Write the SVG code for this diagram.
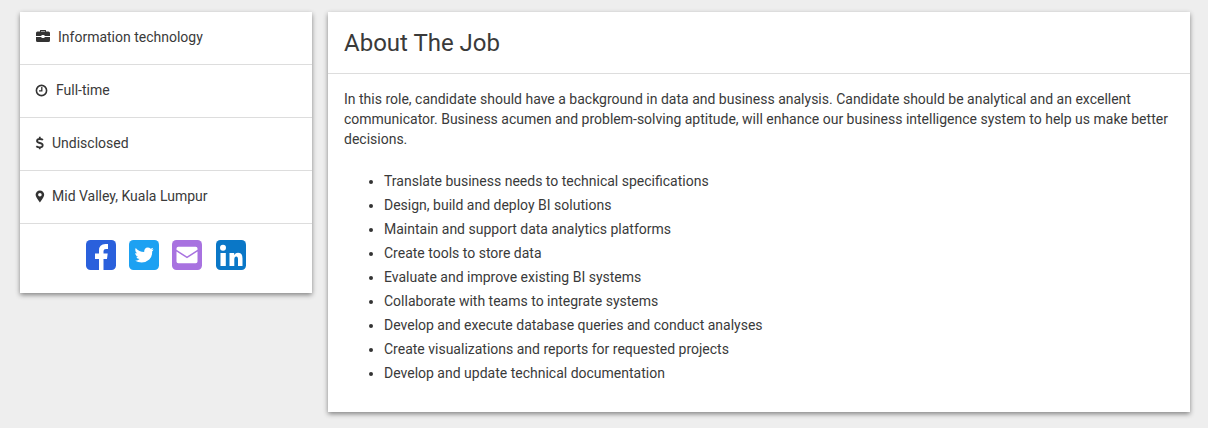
<svg xmlns="http://www.w3.org/2000/svg" width="1208" height="428" viewBox="0 0 1208 428">
<style>
text{font-family:Roboto,"Liberation Sans",sans-serif;font-size:14px;fill:#3a3a3a}
.sep{stroke:#ddd;stroke-width:1;fill:none}
.ic{fill:#333}
.w{fill:#fff}
</style>
<defs>
<filter id="sh" x="-5%" y="-5%" width="110%" height="115%">
<feDropShadow dx="0" dy="2" stdDeviation="2.5" flood-color="#000" flood-opacity="0.45"/>
</filter>
</defs>
<rect width="1208" height="428" fill="#eee"/>
<g id="sidebar">
<rect x="20" y="12" width="292" height="281" fill="#fff" filter="url(#sh)"/>
<path class="sep" d="M20 64.500H312M20 117.500H312M20 170.500H312M20 223.500H312"/>
</g>
<g id="item-industry">
<path class="ic" d="M40 31.500V30.500Q40 30 40.500 30H45.500Q46 30 46 30.500V31.500H48.500Q50 31.500 50 33V36H44.500V35H41.500V36H36V33Q36 31.500 37.500 31.500ZM41 31.500H45V31H41ZM36 37H41.500V38H44.500V37H50V40.500Q50 42 48.500 42H37.500Q36 42 36 40.500Z"/>
<text x="58" y="42">Information technology</text>
</g>
<g id="item-type">
<circle cx="41.500" cy="90.500" r="5.100" fill="none" stroke="#333" stroke-width="1.600"/>
<path d="M41.800 87V90.800H39" fill="none" stroke="#333" stroke-width="1.300"/>
<text x="56" y="95">Full-time</text>
</g>
<g id="item-salary">
<path d="M43 139.900Q41.800 139 39.800 139Q37 139 37 141Q37 142.400 39.800 143Q42.700 143.600 42.700 145.300Q42.700 147.400 39.800 147.400Q37.700 147.400 36.300 146.200M39.800 136.700V139M39.800 147.400V149.300" fill="none" stroke="#333" stroke-width="1.800"/>
<text x="52" y="148">Undisclosed</text>
</g>
<g id="item-location">
<path class="ic" fill-rule="evenodd" d="M39.900 190.500A4.300 4.300 0 0 1 44.200 194.800Q44.200 196.800 39.900 202.500Q35.600 196.800 35.600 194.800A4.300 4.300 0 0 1 39.900 190.500ZM39.900 193A1.800 1.800 0 1 0 39.900 196.600A1.800 1.800 0 1 0 39.900 193Z"/>
<text x="52" y="201">Mid Valley, Kuala Lumpur</text>
</g>
<g id="social-facebook">
<rect x="86" y="240" width="30" height="30" rx="4.500" fill="#2a60dc"/>
<path class="w" d="M99 270V259H95V253.500H99V250.500Q99 244 105.500 244H108V249H106Q103.500 249 103.500 251V253.500H107.700L107 259H103.500V270Z"/>
</g>
<g id="social-twitter">
<rect x="129" y="240" width="30" height="30" rx="4.500" fill="#1da1f2"/>
<path class="w" d="M153.500 249.300Q152.300 249.900 151.500 250Q152.800 249.100 153.200 247.800Q152 248.500 150.700 248.800Q149.400 247.500 147.800 247.500Q144 247.800 144.200 252Q139 251.700 135.700 247.900Q134.400 251 137 253.300Q135.900 253.300 135.200 252.800Q135.300 255.800 138 256.600Q137.200 256.900 136.200 256.700Q137 258.900 139.600 259.100Q137.500 261 134.600 260.600Q143 265 149.300 259.500Q152.500 256.200 152.100 251.600Q153 251 153.500 249.300Z"/>
</g>
<g id="social-email">
<rect x="172" y="240" width="30" height="30" rx="4.500" fill="#a872e0"/>
<path class="w" d="M176.500 248.500Q176.500 246.700 178.300 246.700H195.700Q197.500 246.700 197.500 248.500V249.700L187 256.500L176.500 249.700ZM176.500 251.500L187 258.300L197.500 251.500V261.500Q197.500 263.300 195.700 263.300H178.300Q176.500 263.300 176.500 261.500Z"/>
</g>
<g id="social-linkedin">
<rect x="216" y="240" width="30" height="30" rx="4.500" fill="#0a77c7"/>
<circle class="w" cx="223" cy="247.800" r="3"/>
<path class="w" d="M220.500 253H225.800V266H220.500ZM229.500 253H234.200V255Q235.500 252.700 238 252.700Q242.500 252.700 242.500 258.500V266H238V259.500Q238 256.500 236.300 256.500Q234.300 256.500 234.300 259.500V266H229.500Z"/>
</g>
<g id="job-card">
<rect x="328" y="12" width="862" height="400" fill="#fff" filter="url(#sh)"/>
<path class="sep" d="M328 73.500H1190"/>
<text x="344" y="51" style="font-size:24px">About The Job</text>
<text x="344" y="104">In this role, candidate should have a background in data and business analysis. Candidate should be analytical and an excellent</text>
<text x="344" y="124">communicator. Business acumen and problem-solving aptitude, will enhance our business intelligence system to help us make better</text>
<text x="344" y="144">decisions.</text>
</g>
<g id="job-list">
<g class="ic">
<circle cx="371" cy="182" r="2"/><circle cx="371" cy="206" r="2"/><circle cx="371" cy="230" r="2"/>
<circle cx="371" cy="254" r="2"/><circle cx="371" cy="278" r="2"/><circle cx="371" cy="302" r="2"/>
<circle cx="371" cy="326" r="2"/><circle cx="371" cy="350" r="2"/><circle cx="371" cy="374" r="2"/>
</g>
<text x="384" y="186">Translate business needs to technical specifications</text>
<text x="384" y="210">Design, build and deploy BI solutions</text>
<text x="384" y="234">Maintain and support data analytics platforms</text>
<text x="384" y="258">Create tools to store data</text>
<text x="384" y="282">Evaluate and improve existing BI systems</text>
<text x="384" y="306">Collaborate with teams to integrate systems</text>
<text x="384" y="330">Develop and execute database queries and conduct analyses</text>
<text x="384" y="354">Create visualizations and reports for requested projects</text>
<text x="384" y="378">Develop and update technical documentation</text>
</g>
</svg>
